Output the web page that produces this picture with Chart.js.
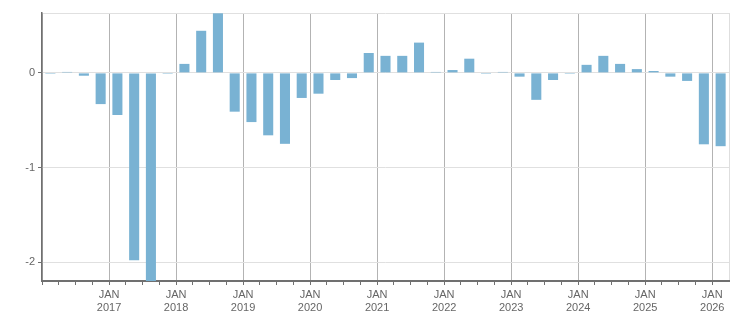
<!DOCTYPE html>
<html>
<head>
<meta charset="utf-8">
<script src="https://cdn.jsdelivr.net/npm/chart.js@4/dist/chart.umd.min.js"></script>
<style>
  html, body { margin: 0; padding: 0; background: #fff; }
  #wrap { width: 751px; height: 313px; }
</style>
</head>
<body>
<div id="wrap"><canvas id="quarterlyChart"></canvas></div>
<script>
// quarterly series, starting Q1 2016
const startYear = 2016;
const monthLabel = 'JAN';
const values = [
    -0.01, 0.01, -0.03, -0.33,
    -0.445, -1.98, -2.4, -0.01,
    0.095, 0.445, 0.63, -0.41,
    -0.52, -0.66, -0.75, -0.265,
    -0.22, -0.075, -0.055, 0.21,
    0.18, 0.18, 0.32, 0.01,
    0.03, 0.15, -0.01, 0.01,
    -0.04, -0.285, -0.075, -0.01,
    0.085, 0.18, 0.095, 0.04,
    0.02, -0.04, -0.085, -0.755,
    -0.775
];
const yTicks = [-2, -1, 0];
const yMin = -2.2;
const yMax = 0.633;

const axisColor = '#707070';
const labelColor = '#666';
const font = { family: '"Liberation Sans", Arial, sans-serif', size: 11, lineHeight: 1.15 };
const nQuarters = values.length;

document.addEventListener('DOMContentLoaded', () => {
    const ctx = document.getElementById('quarterlyChart');
    new Chart(ctx, {
        type: 'bar',
        data: {
            datasets: [{
                data: values.map((v, i) => ({ x: i + 0.5, y: v })),
                backgroundColor: '#79b2d3',
                barPercentage: 0.6,
                categoryPercentage: 1.0
            }]
        },
        options: {
            responsive: true,
            maintainAspectRatio: false,
            animation: false,
            layout: { padding: { top: 13, right: 22, bottom: 0, left: 0 } },
            plugins: { legend: { display: false }, tooltip: { enabled: false } },
            scales: {
                x: {
                    type: 'linear',
                    min: 0,
                    max: nQuarters,
                    offset: false,
                    afterBuildTicks: axis => {
                        axis.ticks = Array.from({ length: nQuarters + 1 }, (_, i) => ({ value: i }));
                    },
                    afterFit: axis => { axis.height = 32; },
                    ticks: {
                        autoSkip: false,
                        maxRotation: 0,
                        padding: 4,
                        color: labelColor,
                        font: font,
                        callback: v => (v > 0 && v % 4 === 0) ? [monthLabel, String(startYear + v / 4)] : ''
                    },
                    grid: {
                        offset: false,
                        tickLength: 4,
                        color: c => {
                            const v = c.tick && c.tick.value;
                            if (v === nQuarters) return '#dedede';
                            return v % 4 === 0 ? '#b3b3b3' : 'rgba(0,0,0,0)';
                        },
                        tickColor: c => (c.tick && c.tick.value === nQuarters) ? 'rgba(0,0,0,0)' : axisColor
                    },
                    border: { color: axisColor, width: 2 }
                },
                y: {
                    min: yMin,
                    max: yMax,
                    afterBuildTicks: axis => {
                        axis.ticks = yTicks.concat([yMax]).map(v => ({ value: v }));
                    },
                    afterFit: axis => { axis.width = 42; },
                    ticks: {
                        padding: 3,
                        color: labelColor,
                        font: font,
                        callback: v => yTicks.includes(v) ? String(v) : ''
                    },
                    grid: {
                        tickLength: 4,
                        color: '#e0e0e0',
                        tickColor: c => (c.tick && c.tick.value === yMax) ? 'rgba(0,0,0,0)' : axisColor
                    },
                    border: { color: axisColor, width: 1.5 }
                }
            }
        }
    });
});
</script>
</body>
</html>
